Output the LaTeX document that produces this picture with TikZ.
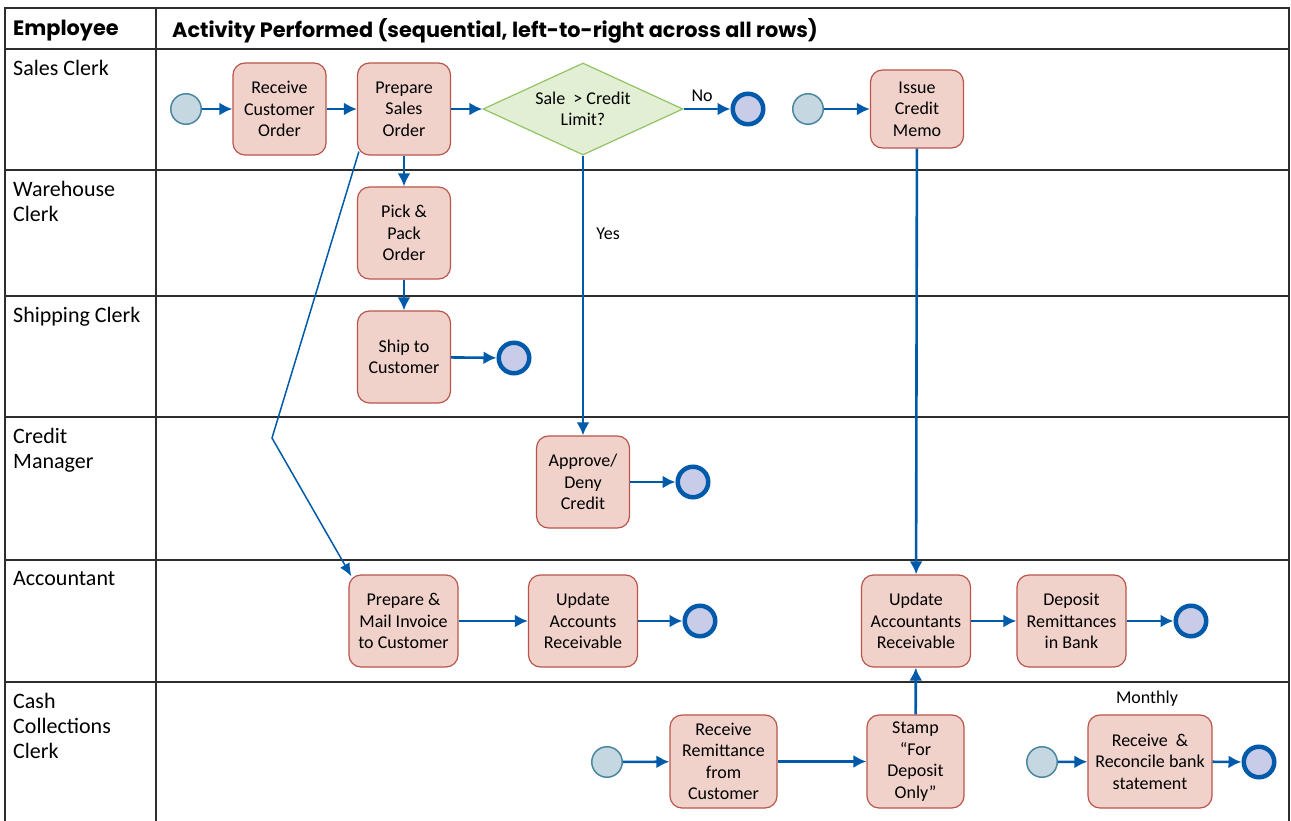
\documentclass[tikz,border=0pt]{standalone}
\usepackage{fontspec}
\setmainfont{Carlito}
\newfontfamily\headfamily{Poppins}
\usetikzlibrary{shapes.geometric, arrows.meta, positioning}
\definecolor{color1}{RGB}{240, 210, 203}
\definecolor{color2}{RGB}{226, 239, 212}
\definecolor{color3}{RGB}{197, 216, 226}
\definecolor{color4}{RGB}{200, 204, 232}
\definecolor{color5}{RGB}{0, 90, 170}
\definecolor{color6}{RGB}{185, 85, 75}
\definecolor{color7}{RGB}{145, 195, 100}
\definecolor{color8}{RGB}{75, 135, 160}
\definecolor{colorgrid}{RGB}{45, 45, 45}
\newcommand{\boxfont}{\fontsize{18}{21.5}\selectfont}
\newcommand{\lanefont}{\fontsize{22}{25}\selectfont}
\newcommand{\headfont}{\headfamily\fontsize{20.8}{25}\selectfont\bfseries}
\tikzstyle{activity} = [rectangle, rounded corners=12pt, minimum width=93pt, minimum height=92pt, inner sep=0pt, align=center, font=\boxfont, draw=color6, line width=1.2pt, fill=color1]
\tikzstyle{decision} = [diamond, aspect=2.17, minimum width=200pt, minimum height=92pt, inner sep=0pt, align=center, font=\boxfont, draw=color7, line width=1.2pt, fill=color2]
\tikzstyle{startnode} = [circle, minimum size=30.5pt, inner sep=0pt, draw=color8, line width=1.5pt, fill=color3]
\tikzstyle{endnode} = [circle, minimum size=30.5pt, inner sep=0pt, draw=color5, line width=4.5pt, fill=color4]
\tikzstyle{arrow} = [color5, line width=2.6pt, -{Latex[length=13pt, width=13pt]}]
\tikzstyle{thinarrow} = [color5, line width=1.5pt, -{Latex[length=13pt, width=11pt]}]
\tikzstyle{grid} = [colorgrid, line width=1.6pt]
\tikzstyle{lane} = [anchor=north west, align=left, inner sep=0pt, font=\lanefont]
\tikzstyle{header} = [anchor=west, inner sep=0pt, font=\headfont]
\tikzstyle{label} = [inner sep=0pt, text=black, font=\boxfont]
\begin{document}
\begin{tikzpicture}[x=1pt, y=-1pt, node distance=124pt]
\useasboundingbox (0,0) rectangle (1291,821);

% Table grid
\draw [grid] (5,821) -- (5,8) -- (1289,8) -- (1289,821);
\draw [grid] (156,8) -- (156,821);
\foreach \y in {49,170,296,417,560,682}
  \draw [grid] (5,\y) -- (1289,\y);

% Headings and employees
\node (head1) [header] at (13,31) {Employee};
\node (head2) [header] at (172,31) {Activity Performed (sequential, left-to-right across all rows)};
\node (lane1) [lane] at (13,60) {Sales Clerk};
\node (lane2) [lane] at (13,181) {Warehouse\\Clerk};
\node (lane3) [lane] at (13,307) {Shipping Clerk};
\node (lane4) [lane] at (13,428) {Credit\\Manager};
\node (lane5) [lane] at (13,571) {Accountant};
\node (lane6) [lane] at (13,693) {Cash\\Collections\\Clerk};

% Nodes
\node (start1) [startnode] at (186,109) {};
\node (receive) [activity] at (279.5,109) {Receive\\Customer\\Order};
\node (prepare) [activity] at (404,109) {Prepare\\Sales\\Order};
\node (decision1) [decision] at (583,109) {Sale \ > Credit\\Limit?};
\node (end1) [endnode] at (748,109) {};
\node (start2) [startnode] at (808,109) {};
\node (memo) [activity, minimum height=78pt] at (917,109) {Issue\\Credit\\Memo};
\node (pick) [activity, below of=prepare] {Pick \&\\Pack\\Order};
\node (ship) [activity, below of=pick] {Ship to\\Customer};
\node (end2) [endnode] at (514,358) {};
\node (approve) [activity] at (583,482) {Approve/\\Deny\\Credit};
\node (end3) [endnode] at (693,482) {};
\node (invoice) [activity, minimum width=109pt] at (403.5,621) {Prepare \&\\Mail Invoice\\to Customer};
\node (update1) [activity, minimum width=109pt] at (583,621) {Update\\Accounts\\Receivable};
\node (end4) [endnode] at (700,621) {};
\node (update2) [activity, minimum width=109pt] at (916,621) {Update\\Accountants\\Receivable};
\node (deposit) [activity, minimum width=109pt] at (1071.5,621) {Deposit\\Remittances\\in Bank};
\node (end5) [endnode] at (1191,621) {};
\node (start3) [startnode] at (607,762) {};
\node (remit) [activity, minimum width=107pt, minimum height=93pt] at (723.5,761.5) {Receive\\Remittance\\from\\Customer};
\node (stamp) [activity, minimum width=97pt, minimum height=93pt] at (915.5,761.5) {Stamp\\“For\\Deposit\\Only”};
\node (start4) [startnode] at (1042,762) {};
\node (reconcile) [activity, minimum width=124pt, minimum height=93pt] at (1150,761.5) {Receive \ \&\\Reconcile bank\\statement};
\node (end6) [endnode] at (1259,762) {};
\node (monthly) [label] at (1147,699) {Monthly};
\coordinate (bend) at (272,438);

% Arrows in the Sales Clerk lane
\draw [arrow] (start1) -- (receive);
\draw [arrow] (receive) -- (prepare);
\draw [arrow] (prepare) -- (decision1);
\draw [arrow] (decision1) -- node[label, above=6pt, xshift=-5pt] {No} (end1);
\draw [arrow] (start2) -- (memo);

% Arrows down the lanes
\draw [arrow] (prepare) -- (pick);
\draw [arrow] (pick) -- (ship);
\draw [arrow] (ship) -- (end2);
\draw [arrow] (decision1) -- node[label, pos=0.28, right=12pt] {Yes} (approve);
\draw [arrow] (approve) -- (end3);
\draw [arrow] (memo) -- (update2);

% Invoice path from the sales order
\draw [thinarrow] ([shift={(2pt,4pt)}]prepare.south west) -- (bend) -- ([shift={(3pt,-2pt)}]invoice.north west);

% Accountant and cash collections
\draw [arrow] (invoice) -- (update1);
\draw [arrow] (update1) -- (end4);
\draw [arrow] (update2) -- (deposit);
\draw [arrow] (deposit) -- (end5);
\draw [arrow] (start3) -- (remit);
\draw [arrow] (remit) -- (stamp);
\draw [arrow] (stamp) -- (update2);
\draw [arrow] (start4) -- (reconcile);
\draw [arrow] (reconcile) -- (end6);

\end{tikzpicture}
\end{document}
